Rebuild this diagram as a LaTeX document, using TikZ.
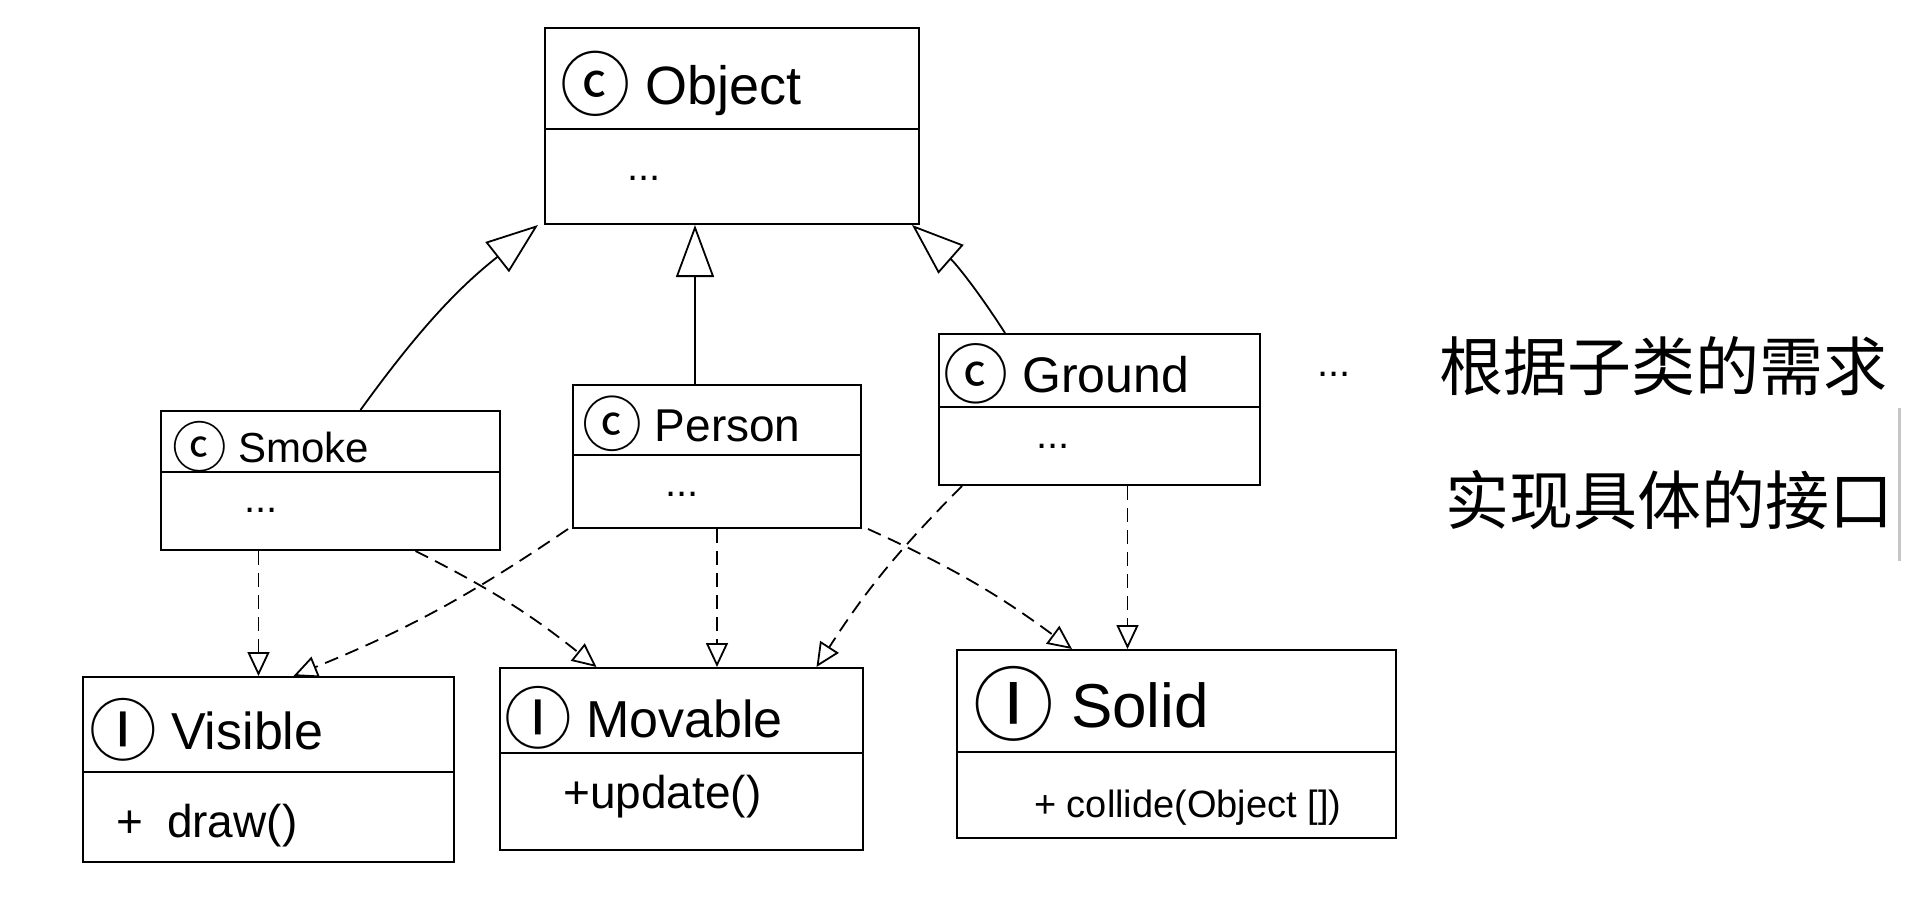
\documentclass[tikz,border=0pt]{standalone}
\usepackage{fontspec}
\setmainfont{Liberation Sans}
\newfontfamily\cjk{Noto Sans CJK SC}
\usetikzlibrary{arrows.meta,calc}
\newcommand\clsmark{\raisebox{-0.12em}{\scalebox{1.3}{\cjk ⓒ}}}
\newcommand\ifcmark{\raisebox{-0.12em}{\scalebox{1.3}{\cjk Ⓘ}}}
\newcommand\fs[1]{\fontsize{#1}{#1}\selectfont}
\begin{document}
\begin{tikzpicture}[x=1pt,y=-1pt,
  box/.style={draw, line width=2pt, inner sep=0pt},
  sep/.style={line width=2pt},
  gen/.style={line width=1.8pt, -{Triangle[open,length=52pt,width=38pt,line width=1.8pt]}},
  real/.style={line width=1.8pt, dash pattern=on 14pt off 8pt, -{Triangle[open,length=24pt,width=22pt,line width=1.8pt]}},
  lbl/.style={anchor=west, inner sep=0pt}]
\fill[white] (0,0) rectangle (1912,920);
\useasboundingbox (0,0) rectangle (1912,920);

% boxes
\node[box, minimum width=374pt, minimum height=196pt] (obj) at (732,126) {};
\node[box, minimum width=339pt, minimum height=139pt] (smoke) at (330.5,480.5) {};
\node[box, minimum width=288pt, minimum height=143pt] (person) at (717,456.5) {};
\node[box, minimum width=321pt, minimum height=151pt] (ground) at (1099.5,409.5) {};
\node[box, minimum width=371pt, minimum height=185pt] (visible) at (268.5,769.5) {};
\node[box, minimum width=363pt, minimum height=182pt] (movable) at (681.5,759) {};
\node[box, minimum width=439pt, minimum height=188pt] (solid) at (1176.5,744) {};

% dividers
\draw[sep] (obj.west |- 0,129) -- (obj.east |- 0,129);
\draw[sep] (smoke.west |- 0,472) -- (smoke.east |- 0,472);
\draw[sep] (person.west |- 0,455) -- (person.east |- 0,455);
\draw[sep] (ground.west |- 0,407) -- (ground.east |- 0,407);
\draw[sep] (visible.west |- 0,772) -- (visible.east |- 0,772);
\draw[sep] (movable.west |- 0,753) -- (movable.east |- 0,753);
\draw[sep] (solid.west |- 0,752) -- (solid.east |- 0,752);

% texts
\node[lbl, font=\fs{54}] (objT) at (560,84) {\clsmark\ Object};
\node[lbl, font=\fs{40}] (objD) at (627,178) {...};
\node[lbl, font=\fs{42}] (smokeT) at (172,447) {\clsmark\ Smoke};
\node[lbl, font=\fs{40}] (smokeD) at (244,510) {...};
\node[lbl, font=\fs{46}] (personT) at (582,424) {\clsmark\ Person};
\node[lbl, font=\fs{40}] (personD) at (665,494) {...};
\node[lbl, font=\fs{50}] (groundT) at (943,374) {\clsmark\ Ground};
\node[lbl, font=\fs{40}] (groundD) at (1036,446) {...};
\node[lbl, font=\fs{52}] (visT) at (89,730) {\ifcmark\ Visible};
\node[lbl, font=\fs{46}] (visD) at (116,826) {+\hspace{24pt}draw()};
\node[lbl, font=\fs{52}] (movT) at (504,718) {\ifcmark\ Movable};
\node[lbl, font=\fs{46}] (movD) at (563,797) {+update()};
\node[lbl, font=\fs{62}] (solT) at (973,704) {\ifcmark\ Solid};
\node[lbl, font=\fs{38}] (solD) at (1034,808) {+ collide(Object [])};
\node[lbl, font=\fs{40}] (dots) at (1317,374) {...};
\node[lbl, font=\cjk\fs{64}] (zh1) at (1439,366) {根据子类的需求};
\node[lbl, font=\cjk\fs{64}] (zh2) at (1445,500) {实现具体的接口};

% generalization
\draw[gen] ([xshift=30pt]smoke.north) to[bend left=8] ([xshift=-6pt]obj.south west);
\draw[gen] ([xshift=-22pt]person.north) -- ([xshift=-22pt]person.north |- obj.south);
\draw[gen] ([xshift=67pt]ground.north west) to[bend right=8] ([xshift=-8pt]obj.south east);

% realization
\draw[real] ([xshift=-72pt]smoke.south) -- ([xshift=-72pt]smoke.south |- visible.north);
\draw[real] ([xshift=-4pt]person.south west) to[bend left=6] ([xshift=25pt]visible.north);
\draw[real] ([xshift=85pt]smoke.south) to[bend left=6] ([xshift=-85pt]movable.north);
\draw[real] (person.south) -- (person.south |- movable.north);
\draw[real] ([xshift=24pt]ground.south west) to[bend right=6] ([xshift=135pt]movable.north);
\draw[real] ([xshift=6pt]person.south east) to[bend left=6] ([xshift=116pt]solid.north west);
\draw[real] ([xshift=28pt]ground.south) -- ([xshift=28pt]ground.south |- solid.north);

% scroll mark at right edge
\draw[gray!45, line width=3pt] (1899,408) -- (1899,561);
\end{tikzpicture}
\end{document}
